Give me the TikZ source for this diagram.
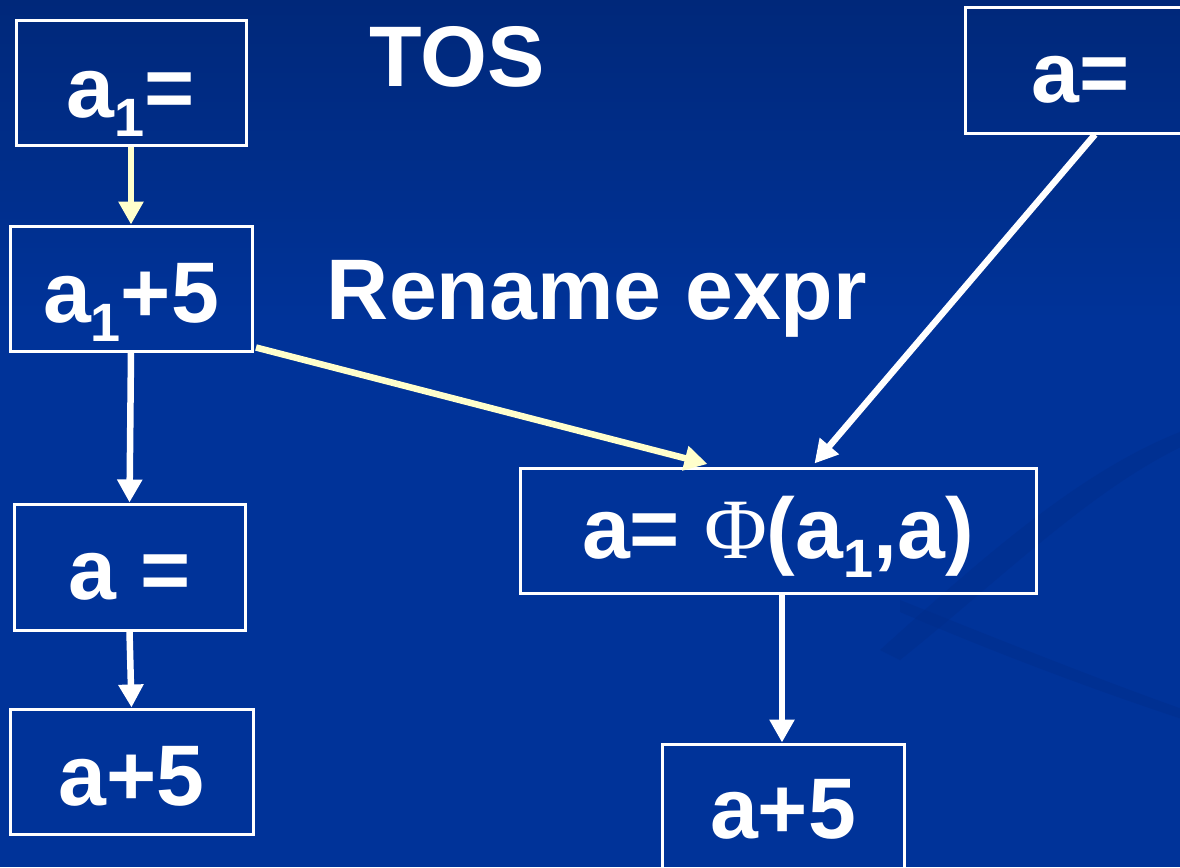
\documentclass[tikz,border=0pt]{standalone}
\usepackage{fontspec}
\setmainfont{Liberation Sans}
\newfontfamily\serifphi{Liberation Serif}
\usetikzlibrary{arrows.meta,calc}
\definecolor{bgmain}{RGB}{0,51,153}
\definecolor{bgtop}{RGB}{0,40,122}
\definecolor{swoosh}{RGB}{0,43,135}
\definecolor{cream}{RGB}{255,255,204}
\newcommand{\subone}{\raisebox{-19pt}{\fontsize{54}{60}\selectfont 1}}
\begin{document}
\begin{tikzpicture}[x=1pt,y=-1pt,
  box/.style={draw=white,line width=3pt,inner sep=0pt,text=white,
    font=\fontsize{86}{100}\selectfont\bfseries},
  lbl/.style={text=white,inner sep=0pt,anchor=base,
    font=\fontsize{86}{100}\selectfont\bfseries},
  warrow/.style={draw=white,line width=6.5pt,-{Triangle[length=23pt,width=24pt]}},
  yarrow/.style={warrow,draw=cream}]
\useasboundingbox (0,0) rectangle (1180,867);
\fill[bgmain] (0,0) rectangle (1180,867);
\shade[top color=bgtop,bottom color=bgmain] (0,0) rectangle (1180,320);
% faint background swooshes
\fill[swoosh,opacity=.35] (880,650) .. controls (980,560) and (1080,470) .. (1185,430)
  -- (1185,445) .. controls (1090,490) and (1000,580) .. (900,660) -- cycle;
\fill[swoosh,opacity=.35] (900,600) .. controls (1000,640) and (1100,680) .. (1185,710)
  -- (1185,720) .. controls (1100,692) and (1000,655) .. (900,612) -- cycle;

% boxes
\node[box,minimum width=230pt,text height=96pt,text depth=28pt] (a1) at (131,83) {a\subone=};
\node[box,minimum width=242pt,text height=96pt,text depth=29pt] (a1p) at (131,288.5) {a\subone+5};
\node[box,minimum width=231pt,text height=95pt,text depth=31pt] (aeq) at (129.5,567) {a =};
\node[box,minimum width=243pt,text height=96pt,text depth=29pt] (a5l) at (131.5,771.5) {a+5};
\node[box,minimum width=232pt,text height=94pt,text depth=31pt] (ar) at (1081,70.5) {a=};
\node[box,minimum width=516pt,text height=90pt,text depth=35pt] (phi) at (778,530.5)
  {a= {\mdseries\serifphi\char"03A6}(a\subone,a)};
\node[box,minimum width=242pt,text height=94pt,text depth=31pt] (a5r) at (783,806.5) {a+5};

% labels
\node[lbl] (tos) at (457,86) {TOS};
\node[lbl] (ren) at (597,319) {Rename expr};

% connectors
\draw[yarrow] (a1.south) -- (a1p.north);
\draw[warrow] (a1p.south) -- (aeq.north);
\draw[warrow] (aeq.south) -- (a5l.north);
\draw[yarrow] ([xshift=2.5pt,yshift=5pt]a1p.south east) -- ([xshift=189pt,yshift=2.5pt]phi.north west);
\draw[warrow] ([xshift=14pt]ar.south) -- ([xshift=296pt,yshift=3pt]phi.north west);
\draw[warrow] ([xshift=4pt]phi.south) -- ([xshift=-1pt]a5r.north);
\end{tikzpicture}
\end{document}
